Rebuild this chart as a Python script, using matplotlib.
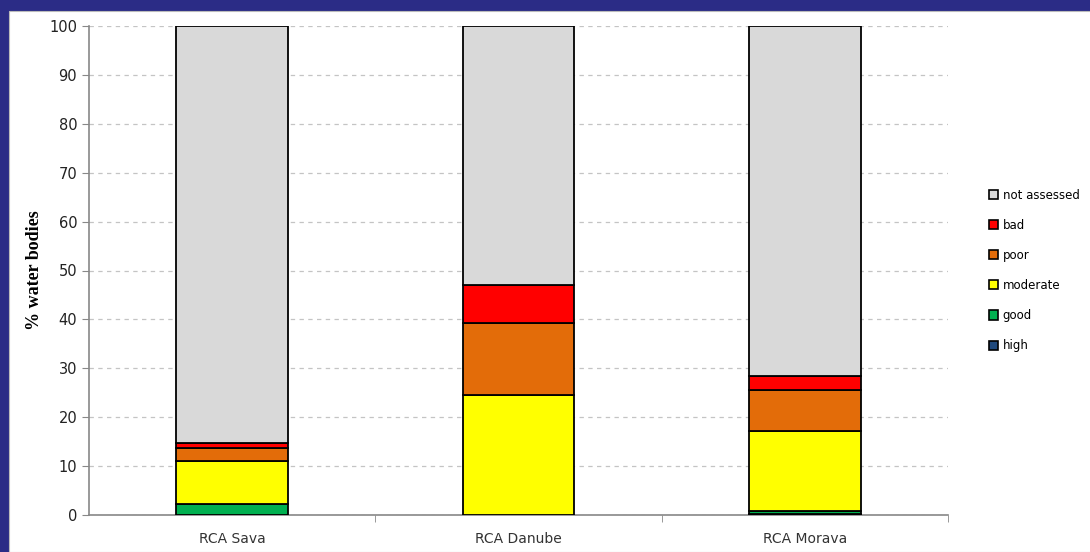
import numpy as np
import matplotlib.pyplot as plt
from matplotlib.patches import Rectangle, Patch

# data (% of water bodies)
basins = ['RCA Sava', 'RCA Danube', 'RCA Morava']
classes = ['high', 'good', 'moderate', 'poor', 'bad', 'not assessed']
high = [0.0, 0.0, 0.3]
good = [2.3, 0.0, 0.6]
moderate = [8.7, 24.6, 16.3]
poor = [2.8, 14.6, 8.4]
bad = [1.0, 7.8, 2.8]
not_assessed = [85.2, 53.0, 71.6]
colors = ['#1F497D', '#00B050', '#FFFF00', '#E36C09', '#FF0000', '#D9D9D9']

series = [high, good, moderate, poor, bad, not_assessed]

fig = plt.figure(figsize=(10.9, 5.52), dpi=100)
fig.patch.set_facecolor('#2B2C86')
# white slide area inside the blue frame
bg = Rectangle((9 / 1090, 0), 1, 1 - 11 / 552, transform=fig.transFigure,
               facecolor='white', edgecolor='#BBBBBB', lw=0.8, zorder=-10)
fig.add_artist(bg)

ax = fig.add_axes([89 / 1090, 37 / 552, 859 / 1090, 489 / 552])
ax.set_facecolor('none')

x = np.arange(len(basins))
bottom = np.zeros(len(basins))
for name, vals, c in zip(classes, series, colors):
    ax.bar(x, vals, width=0.39, bottom=bottom, color=c, edgecolor='black',
           linewidth=1.3, label=name, zorder=3)
    bottom += np.array(vals)

ax.set_xlim(-0.5, 2.5)
ax.set_ylim(0, 100)
ax.set_yticks(np.arange(0, 101, 10))
ax.yaxis.grid(True, linestyle=(0, (3.5, 3.5)), color='#C4C4C4', linewidth=0.9, zorder=0)
ax.set_axisbelow(True)
ax.set_xticks(x)
ax.set_xticklabels(basins, fontsize=10, color='#333333')
ax.set_xticks([0.5, 1.5, 2.5], minor=True)
ax.tick_params(axis='x', which='major', length=0, pad=12)
ax.tick_params(axis='x', which='minor', length=5, color='#888888', direction='out')
ax.tick_params(axis='y', labelsize=10.5, colors='#888888', labelcolor='#222222', length=5)

for s in ['top', 'right']:
    ax.spines[s].set_visible(False)
for s in ['left', 'bottom']:
    ax.spines[s].set_color('#888888')
    ax.spines[s].set_linewidth(1.2)

ax.set_ylabel('% water bodies', family='Liberation Serif', fontweight='bold', fontsize=13)
ax.yaxis.set_label_coords(-0.054, 0.5)

handles = [Patch(facecolor=c, edgecolor='black', linewidth=1.2) for c in colors][::-1]
fig.legend(handles, classes[::-1], loc='upper left', bbox_to_anchor=(978 / 1090, 1 - 178 / 552),
           frameon=False, fontsize=8.5, handlelength=0.8, handleheight=0.8,
           handletextpad=0.4, labelspacing=1.45)

fig.savefig('out.png', dpi=100)
